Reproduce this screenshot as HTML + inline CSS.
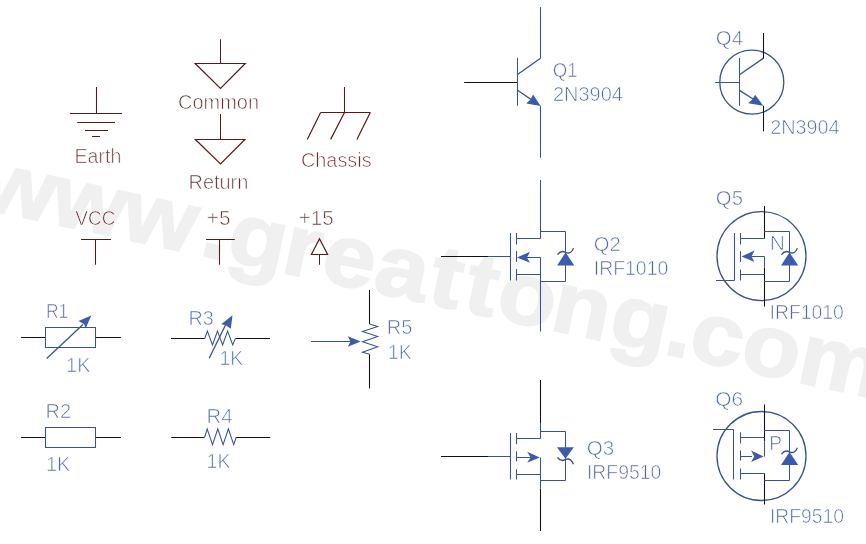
<!DOCTYPE html>
<html><head><meta charset="utf-8">
<style>
html,body{margin:0;padding:0;background:#fff;width:866px;height:544px;overflow:hidden}
svg{display:block;will-change:transform}
text{font-family:"Liberation Sans",sans-serif}
.wm{fill:#f0f0f0;stroke:#f0f0f0;stroke-width:2;font-weight:bold;font-size:95px}
.m{stroke:#5e1818;stroke-width:1.05;fill:none}
.m2{stroke:#5e1818;stroke-width:1.2;fill:none}
.mt{fill:#663030;font-size:20px;stroke:#fff;stroke-width:0.65}
.b{stroke:#3a5196;stroke-width:1.05;fill:none}
.b2{stroke:#3a5196;stroke-width:1.3;fill:none}
.k2{stroke:#3a5196;stroke-width:1.2;fill:none}
.c{stroke:#3a5196;stroke-width:1.3;fill:none}
.bf{fill:#3b5cab;stroke:none}
.k{stroke:#111;stroke-width:1.05;fill:none}
.bt{fill:#5068a8;font-size:20px;stroke:#fff;stroke-width:0.65}
</style></head>
<body>
<svg width="866" height="544" viewBox="0 0 866 544">
<rect width="866" height="544" fill="#fff"/>
<g transform="translate(211 257.5) rotate(12) scale(1 0.92)">
<text class="wm" x="-238.8 -166.6 -94.4 -13.1 13.8 69.9 109.8 163.9 219.4 255.6 289.2 344.7 404.5 461.1 486.1 538.9 596.9" y="0">www.greattong.com</text>
</g>
<path class="m" d="M96.5 87V113.5M70.1 113.5H122M77.2 122.5H115M85 130.5H108M92 136.5H100"/>
<text class="mt" x="74.60" y="162.7" textLength="46.67" lengthAdjust="spacingAndGlyphs">Earth</text>
<path class="m" d="M220.5 39.2V63.5"/>
<path class="m2" d="M195.2 63.5H245.3L220.5 88.4Z"/>
<text class="mt" x="177.99" y="108.6" textLength="81.01" lengthAdjust="spacingAndGlyphs">Common</text>
<path class="m" d="M220.5 114.1V139.5"/>
<path class="m2" d="M195.4 139.5H244.9L220.5 164Z"/>
<text class="mt" x="188.57" y="188.6" textLength="59.72" lengthAdjust="spacingAndGlyphs">Return</text>
<path class="m" d="M344.5 87.1V112.5M320.6 112.5H370.3"/>
<path class="m2" d="M320.6 112.5L307.3 139.4M344.5 112.5L330.6 139.4M370.3 112.5L356.9 139.4"/>
<text class="mt" x="300.99" y="166.8" textLength="70.63" lengthAdjust="spacingAndGlyphs">Chassis</text>
<text class="mt" x="75.32" y="225" textLength="40.16" lengthAdjust="spacingAndGlyphs">VCC</text>
<path class="m" d="M81 239.5H111M95.5 239.5V264.8"/>
<text class="mt" x="206.88" y="225" textLength="23.74" lengthAdjust="spacingAndGlyphs">+5</text>
<path class="m" d="M206 239.5H234.8M219.5 239.5V264.8"/>
<text class="mt" x="298.74" y="225" textLength="35.03" lengthAdjust="spacingAndGlyphs">+15</text>
<path class="m2" d="M319.5 238.8L327.6 254.5H311.4Z"/>
<path class="m" d="M319.5 254.5V264.8"/>
<path class="k" d="M21.1 337.5H45.5M95.5 337.5H120.9"/>
<path class="b" d="M45.5 327.5H95.5V347.5H45.5Z"/>
<path class="b2" d="M46.7 358.5L83 324.5"/>
<path class="bf" d="M91.3 315.6L78.5 321L84.2 324.3L85.6 328.5Z"/>
<text class="bt" x="45.97" y="317.5" textLength="22.28" lengthAdjust="spacingAndGlyphs">R1</text>
<text class="bt" x="66.08" y="372.2" textLength="24.34" lengthAdjust="spacingAndGlyphs">1K</text>
<path class="k" d="M171 338.5H204.7M235.4 338.5H270"/>
<path class="b" d="M204.7 338.5L207.4 331L212.5 344.9L217.5 331L222.6 344.9L227.6 331L232.7 344.9L235.4 338.5"/>
<path class="b2" d="M209.2 358.3L225.5 325"/>
<path class="bf" d="M232.5 315.3L221.2 324.2L225.8 325.3L230.8 328.8Z"/>
<text class="bt" x="188.48" y="325.3" textLength="25.29" lengthAdjust="spacingAndGlyphs">R3</text>
<text class="bt" x="219.52" y="365" textLength="23.69" lengthAdjust="spacingAndGlyphs">1K</text>
<path class="k" d="M369.5 290V323.9M369.5 354.3V388.6"/>
<path class="b" d="M369.5 323.9L377.7 326.5L362.5 331.5L377.7 336.6L362.5 341.7L377.7 346.7L362.5 352.2L369.5 354.3"/>
<path class="k2" d="M311 341.5H352"/>
<path class="bf" d="M360.7 341.5L347.8 336.3L350.5 341.5L347.8 346.8Z"/>
<text class="bt" x="386.65" y="334" textLength="25.69" lengthAdjust="spacingAndGlyphs">R5</text>
<text class="bt" x="387.92" y="358.8" textLength="23.80" lengthAdjust="spacingAndGlyphs">1K</text>
<path class="k" d="M21.1 437.5H45.5M95.5 437.5H121"/>
<path class="b" d="M45.5 427.5H95.5V447.5H45.5Z"/>
<text class="bt" x="45.55" y="417.7" textLength="25.66" lengthAdjust="spacingAndGlyphs">R2</text>
<text class="bt" x="45.98" y="470.8" textLength="24.45" lengthAdjust="spacingAndGlyphs">1K</text>
<path class="k" d="M171.2 437.5H204.5M236.1 437.5H270.2"/>
<path class="b" d="M204.5 437.5L207.2 429L212.5 444.7L217.8 429L223.1 444.7L228.4 429L233.7 444.7L236.1 437.5"/>
<text class="bt" x="206.43" y="422.8" textLength="26.07" lengthAdjust="spacingAndGlyphs">R4</text>
<text class="bt" x="206.61" y="468.4" textLength="23.91" lengthAdjust="spacingAndGlyphs">1K</text>
<path class="k" d="M464.1 82.5H517"/>
<path class="b" d="M517.5 57.8V105.7M540.5 7.1V58.5M540.5 105.7V157.8"/>
<path class="b2" d="M517.5 74.5L540.5 58.3M517.5 90.3L534 101.5"/>
<path class="bf" d="M540.6 106L526.3 103.4L530.5 99.5L533.1 94.4Z"/>
<text class="bt" x="552.82" y="76.9" textLength="24.90" lengthAdjust="spacingAndGlyphs">Q1</text>
<text class="bt" x="553.00" y="101" textLength="69.89" lengthAdjust="spacingAndGlyphs">2N3904</text>
<path class="c" d="M751.8 50.2A32 32 0 1 1 751.8 114.2A32 32 0 1 1 751.8 50.2Z"/>
<path class="b" d="M715.1 82.5H739.5M739.5 58.1V105.8"/>
<path class="b2" d="M739.5 74.7L763.5 58.1M739.5 90.4L757 101.5"/>
<path class="k" d="M763.5 33.1V58.5M763.5 105.8V131.3"/>
<path class="bf" d="M763.3 105.8L748.3 103.3L752.5 99.3L755.1 94.8Z"/>
<text class="bt" x="715.73" y="45" textLength="27.37" lengthAdjust="spacingAndGlyphs">Q4</text>
<text class="bt" x="770.25" y="134.4" textLength="69.33" lengthAdjust="spacingAndGlyphs">2N3904</text>
<path class="k" d="M441 256.5H488"/>
<path class="b" d="M488 256.5H510.5M510.5 233V280.6M516.5 233V244.6M516.5 250.9V261.7M516.5 269V280.6M516 238.5H540.5M540.5 180V238.5M540.5 231.5H565.5M565.5 231.5V281.5M540.5 281.5H565.5M527 257.5H540.5M540.5 257.5V331.5M516 274.5H540.5"/>
<path class="bf" d="M516.9 257.5L530 251.75L527 257.5L530 262.75Z"/>
<path class="bf" d="M565.6 252.4L574.3000000000001 265.4H557.1Z"/>
<path class="b2" d="M557.5 254.70000000000002Q561.4 249.8 565.6 252.4Q570.9 254.70000000000002 573.5 248.20000000000002"/>
<text class="bt" x="593.74" y="250.6" textLength="26.97" lengthAdjust="spacingAndGlyphs">Q2</text>
<text class="bt" x="593.81" y="274.7" textLength="74.45" lengthAdjust="spacingAndGlyphs">IRF1010</text>
<path class="c" d="M761.5 211.6A44.5 44.5 0 1 1 761.5 300.6A44.5 44.5 0 1 1 761.5 211.6Z"/>
<path class="k" d="M764.5 206V238.5M764.5 267.7V306.5"/>
<path class="b" d="M716 280.5H734.5M734.5 233.1V280.6M740.5 233.1V244.6M740.5 251.25V261.9M740.5 269.6V280.6M740.5 238.5H764.5M764.5 231.5H789.5M789.5 231.5V281.5M764.5 281.5H789.5M751 256.5H764.5M764.5 256.5V267.7M740.5 274.5H764.5"/>
<path class="bf" d="M741.4 256.5L754.5 250.6L751.4 256.5L754.5 261.9Z"/>
<path class="bf" d="M789.5 252.4L798.2 265.4H781.0Z"/>
<path class="b2" d="M781.4 254.70000000000002Q785.3 249.8 789.5 252.4Q794.8 254.70000000000002 797.4 248.20000000000002"/>
<text class="bt" x="769.89" y="250.1" textLength="15.06" lengthAdjust="spacingAndGlyphs">N</text>
<text class="bt" x="715.84" y="205.2" textLength="27.12" lengthAdjust="spacingAndGlyphs">Q5</text>
<text class="bt" x="769.61" y="319.2" textLength="74.24" lengthAdjust="spacingAndGlyphs">IRF1010</text>
<path class="k" d="M441 456.5H488M540.5 380V423.1M540.5 488.75V530.9"/>
<path class="b" d="M488 456.5H510.5M510.5 433V479.6M516.5 433V444.3M516.5 451.25V461.5M516.5 469.25V479.6M516 438.5H540.5M540.5 423.1V438.5M540.5 431.5H565.5M565.5 431.5V480.5M540.5 480.5H565.5M516 457.5H531M540.5 457.5V488.75M516 474.5H540.5"/>
<path class="bf" d="M539.75 457.5L527.25 451.75L530.6 457.5L527.25 462.75Z"/>
<path class="bf" d="M565.5 458.8L573.9 447.2H556.9Z"/>
<path class="b2" d="M557.4 457.5Q561.3 462.40000000000003 565.5 459.40000000000003Q570.8 457.6 573.4 464.3"/>
<text class="bt" x="586.82" y="455" textLength="27.48" lengthAdjust="spacingAndGlyphs">Q3</text>
<text class="bt" x="586.96" y="479.4" textLength="74.40" lengthAdjust="spacingAndGlyphs">IRF9510</text>
<path class="c" d="M761.5 411.5A44.5 44.5 0 1 1 761.5 500.5A44.5 44.5 0 1 1 761.5 411.5Z"/>
<path class="k" d="M764.5 404.4V441.25M764.5 473.5V504.6"/>
<path class="b" d="M713 429.5H733.5M733.5 429.5V479.6M740.5 432.25V443.5M740.5 450.6V460.6M740.5 468.4V479.6M740.5 437.5H764.5M764.5 441.25V456.5M764.5 430.5H789.5M789.5 430.5V480.5M764.5 480.5H789.5M740.5 456.5H752M740.5 473.5H764.5"/>
<path class="bf" d="M763.6 456.5L751.1 450.6L754.25 456.5L751.1 461.9Z"/>
<path class="bf" d="M789.5 451.9L798.2 464.9H781.0Z"/>
<path class="b2" d="M781.4 454.2Q785.3 449.29999999999995 789.5 451.9Q794.8 454.2 797.4 447.7"/>
<text class="bt" x="769.23" y="449.8" textLength="12.78" lengthAdjust="spacingAndGlyphs">P</text>
<text class="bt" x="715.21" y="405.9" textLength="27.80" lengthAdjust="spacingAndGlyphs">Q6</text>
<text class="bt" x="769.92" y="522.9" textLength="74.14" lengthAdjust="spacingAndGlyphs">IRF9510</text>
</svg>
</body></html>
